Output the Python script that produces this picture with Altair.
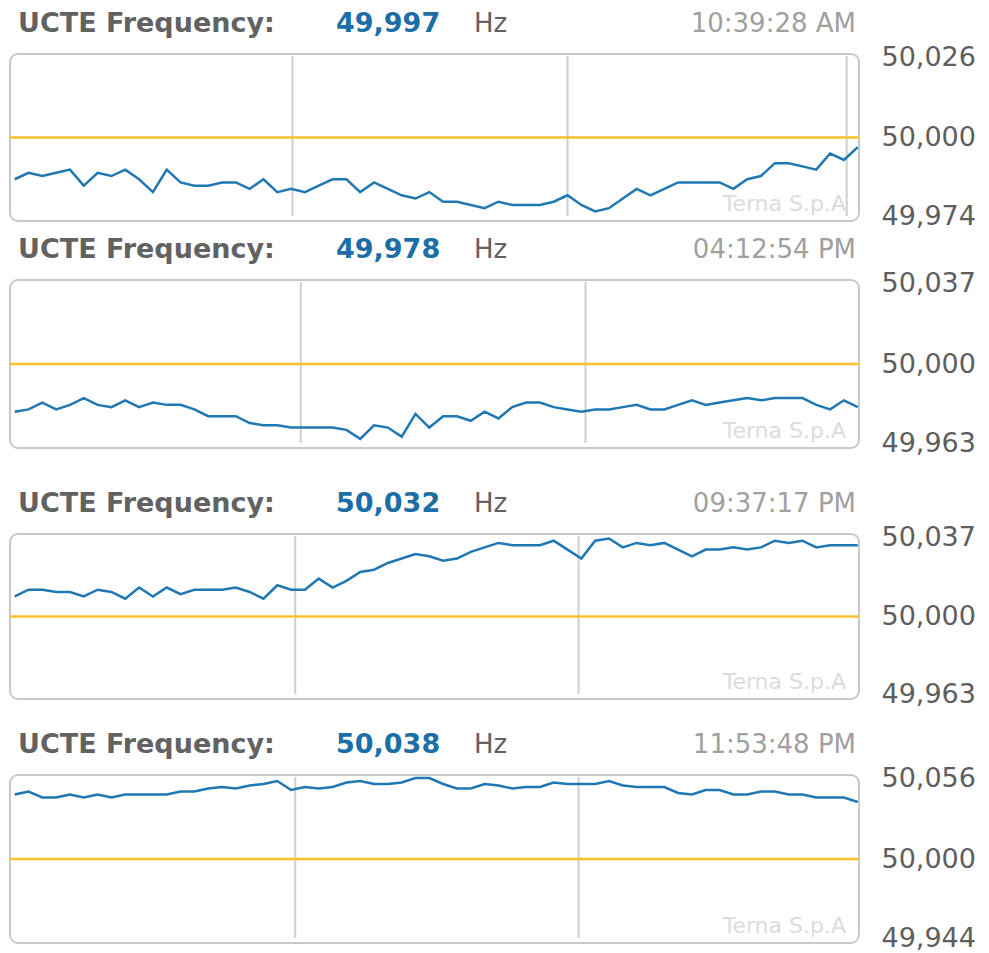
import altair as alt
import pandas as pd

FONT = "DejaVu Sans"

# ---- data ----
current_values = ["49,997", "49,978", "50,032", "50,038"]
times = ["10:39:28 AM", "04:12:54 PM", "09:37:17 PM", "11:53:48 PM"]
y_lo = [49.974, 49.963, 49.963, 49.944]
y_hi = [50.026, 50.037, 50.037, 50.056]
nominal = 50.0
grid_minutes = [[20.1, 40.0, 60.2], [20.7, 41.3], [20.3, 40.8], [20.3, 40.8]]
minutes = list(range(62))

# deviation from 50 Hz in mHz, one sample per minute
dev_1 = [-13, -11, -12, -11, -10, -15, -11, -12, -10, -13,
         -17, -10, -14, -15, -15, -14, -14, -16, -13, -17,
         -16, -17, -15, -13, -13, -17, -14, -16, -18, -19,
         -17, -20, -20, -21, -22, -20, -21, -21, -21, -20,
         -18, -21, -23, -22, -19, -16, -18, -16, -14, -14,
         -14, -14, -16, -13, -12, -8, -8, -9, -10, -5,
         -7, -3]
dev_2 = [-21, -20, -17, -20, -18, -15, -18, -19, -16, -19,
         -17, -18, -18, -20, -23, -23, -23, -26, -27, -27,
         -28, -28, -28, -28, -29, -33, -27, -28, -32, -22,
         -28, -23, -23, -25, -21, -24, -19, -17, -17, -19,
         -20, -21, -20, -20, -19, -18, -20, -20, -18, -16,
         -18, -17, -16, -15, -16, -15, -15, -15, -18, -20,
         -16, -19]
dev_3 = [9, 12, 12, 11, 11, 9, 12, 11, 8, 13,
         9, 13, 10, 12, 12, 12, 13, 11, 8, 14,
         12, 12, 17, 13, 16, 20, 21, 24, 26, 28,
         27, 25, 26, 29, 31, 33, 32, 32, 32, 34,
         30, 26, 34, 35, 31, 33, 32, 33, 30, 27,
         30, 30, 31, 30, 31, 34, 33, 34, 31, 32,
         32, 32]
dev_4 = [43, 45, 41, 41, 43, 41, 43, 41, 43, 43,
         43, 43, 45, 45, 47, 48, 47, 49, 50, 52,
         46, 48, 47, 48, 51, 52, 50, 50, 51, 54,
         54, 50, 47, 47, 50, 49, 47, 48, 48, 51,
         50, 50, 50, 52, 49, 48, 48, 48, 44, 43,
         46, 46, 43, 43, 45, 45, 43, 43, 41, 41,
         41, 38]
devs = [dev_1, dev_2, dev_3, dev_4]

# ---- layout (pixels) ----
W = 849
heights = [213, 227, 251, 244]
box_top = [46, 59, 86, 76]
X_DOMAIN = [-0.34, 61.09]

GRAY = "#626262"
BLUE_TXT = "#1b6ea6"


def panel(i):
    H, T = heights[i], box_top[i]
    lo, hi = y_lo[i], y_hi[i]
    xs = alt.Scale(domain=X_DOMAIN, nice=False, zero=False)
    ys = alt.Scale(domain=[lo, hi], range=[H, T], nice=False, zero=False)
    yaxis = alt.Axis(
        orient="right", values=[lo, nominal, hi],
        labelExpr="replace(format(datum.value, '.3f'), '.', ',')",
        domain=False, ticks=False, grid=False, title=None,
        labelFont=FONT, labelFontSize=27, labelColor="#5e5e5e",
        labelPadding=22, labelOverlap=False,
        labelOffset={
            "condition": [
                {"test": f"datum.value > {nominal + 0.001}", "value": 3},
                {"test": f"datum.value < {nominal - 0.001}", "value": -5},
            ],
            "value": 0,
        },
    )

    df = pd.DataFrame({"minute": minutes, "freq": [nominal + d / 1000 for d in devs[i]]})
    frame = pd.DataFrame({"x0": [X_DOMAIN[0]], "x1": [X_DOMAIN[1]], "lo": [lo], "hi": [hi]})
    grid_df = pd.DataFrame({"minute": grid_minutes[i], "lo": lo, "hi": hi})

    box = alt.Chart(frame).mark_rect(
        fill="white", stroke="#c9c9c9", strokeWidth=2, cornerRadius=8
    ).encode(
        x=alt.X("x0:Q", scale=xs, axis=None), x2="x1",
        y=alt.Y("hi:Q", scale=ys, axis=yaxis), y2="lo",
    )
    grid = alt.Chart(grid_df).mark_rule(
        color="#cfcfcf", strokeWidth=2, yOffset=2, y2Offset=-5
    ).encode(
        x=alt.X("minute:Q", scale=xs, axis=None),
        y=alt.Y("hi:Q", scale=ys, axis=yaxis), y2="lo",
    )
    ref = alt.Chart(pd.DataFrame({"f": [nominal]})).mark_rule(
        color="#fcc02e", strokeWidth=2.5
    ).encode(y=alt.Y("f:Q", scale=ys, axis=yaxis))

    mark = alt.Chart(pd.DataFrame({"t": ["Terna S.p.A"]})).mark_text(
        align="right", baseline="alphabetic", font=FONT, fontSize=22, color="#dcdcdc"
    ).encode(text="t:N", x=alt.value(836), y=alt.value(H - 10))

    line = alt.Chart(df).mark_line(color="#1f77b4", strokeWidth=2.5).encode(
        x=alt.X("minute:Q", scale=xs, axis=None),
        y=alt.Y("freq:Q", scale=ys, axis=yaxis),
    )

    ty = T - 22
    t1 = alt.Chart(pd.DataFrame({"t": ["UCTE Frequency:"]})).mark_text(
        align="left", baseline="alphabetic", font=FONT, fontSize=27,
        fontWeight="bold", color=GRAY
    ).encode(text="t:N", x=alt.value(8), y=alt.value(ty))
    t2 = alt.Chart(pd.DataFrame({"t": [current_values[i]]})).mark_text(
        align="left", baseline="alphabetic", font=FONT, fontSize=27,
        fontWeight="bold", color=BLUE_TXT
    ).encode(text="t:N", x=alt.value(326), y=alt.value(ty))
    t3 = alt.Chart(pd.DataFrame({"t": ["Hz"]})).mark_text(
        align="left", baseline="alphabetic", font=FONT, fontSize=26, color=GRAY
    ).encode(text="t:N", x=alt.value(464), y=alt.value(ty))
    t4 = alt.Chart(pd.DataFrame({"t": [times[i]]})).mark_text(
        align="right", baseline="alphabetic", font=FONT, fontSize=26, color="#a0a0a0"
    ).encode(text="t:N", x=alt.value(846), y=alt.value(ty))

    return alt.layer(box, grid, ref, mark, line, t1, t2, t3, t4).properties(
        width=W, height=H
    )


chart = alt.vconcat(
    *[panel(i) for i in range(4)], spacing=0, bounds="flush"
).properties(padding=0).configure_view(stroke=None)

chart.save("out.html", embed_options={"renderer": "svg", "actions": False})
